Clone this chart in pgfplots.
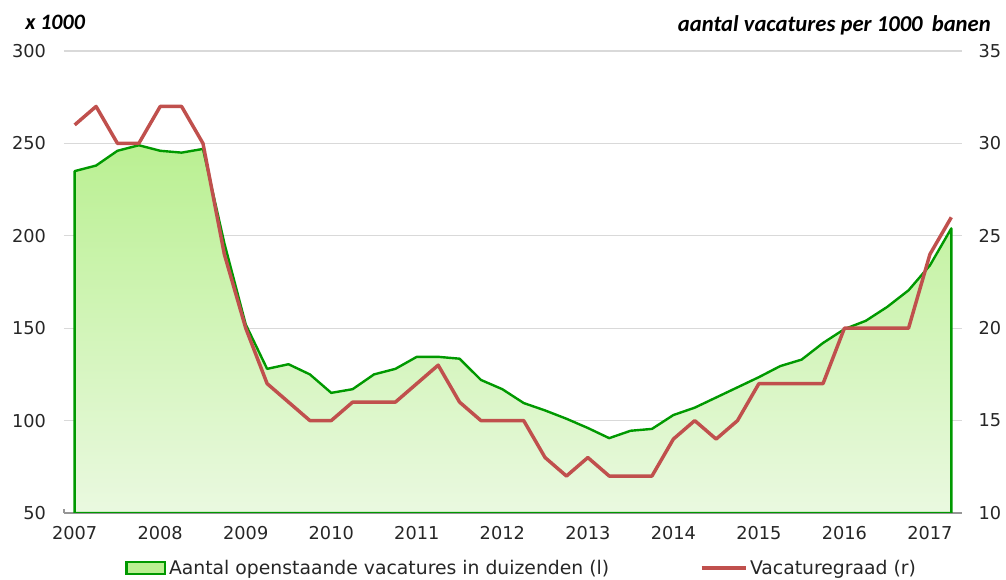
\documentclass[border=0pt]{standalone}
\usepackage{pgfplots}
\pgfplotsset{compat=1.18}
\usepackage{fontspec}
\setmainfont{DejaVu Sans}
\newfontfamily\hdr{Carlito}
\definecolor{gline}{RGB}{0,153,0}
\definecolor{rline}{RGB}{192,80,77}
\definecolor{gtop}{RGB}{186,240,146}
\definecolor{gbot}{RGB}{234,249,224}
\definecolor{gridc}{RGB}{217,217,217}
\definecolor{axg}{RGB}{150,150,150}
\newcommand{\tfont}{\fontsize{13.3}{16}\selectfont}
\newcommand{\lfont}{\fontsize{14.1}{17}\selectfont}
\pgfplotsset{
  boxlegend/.style={legend image code/.code={\draw[##1] (0pt,-4.5pt) rectangle (29pt,4.5pt);}},
  linelegend/.style={legend image code/.code={\draw[##1] (0pt,0pt) -- (33pt,0pt);}},
}

\pgfplotstableread{
x y
0 235
1 238
2 246
3 249
4 246
5 245
6 247
7 196
8 152
9 128
10 130.5
11 125
12 115
13 117
14 125
15 128
16 134.5
17 134.5
18 133.5
19 122
20 117
21 109.5
22 105.5
23 101
24 96
25 90.5
26 94.5
27 95.5
28 103
29 107
30 112.5
31 118
32 123.5
33 129.5
34 133
35 142
36 149.5
37 154
38 161.5
39 170.5
40 184
41 204
}\vacatures

\pgfplotstableread{
x y
0 31
1 32
2 30
3 30
4 32
5 32
6 30
7 24
8 20
9 17
10 16
11 15
12 15
13 16
14 16
15 16
16 17
17 18
18 16
19 15
20 15
21 15
22 13
23 12
24 13
25 12
26 12
27 12
28 14
29 15
30 14
31 15
32 17
33 17
34 17
35 17
36 20
37 20
38 20
39 20
40 24
41 26
}\graad

\begin{document}
\begin{tikzpicture}
\useasboundingbox (-48pt,-50.25pt) rectangle (706.5pt,384.75pt);
\begin{axis}[
  at={(0pt,0pt)}, anchor=south west,
  width=673.5pt, height=346.5pt, scale only axis,
  xmin=-0.5, xmax=41.5, ymin=50, ymax=300,
  axis x line*=bottom, axis y line*=left,
  x axis line style={draw=axg, line width=0.9pt, -},
  y axis line style={draw=none},
  xtick={0,4,...,40},
  xticklabels={2007,2008,2009,2010,2011,2012,2013,2014,2015,2016,2017},
  minor xtick={-0.5,3.5,...,39.5},
  major tick length=0pt, minor tick length=3pt, tick align=inside,
  minor tick style={draw=axg, line width=0.9pt},
  ytick={50,100,...,300},
  ymajorgrids, grid style={draw=gridc, line width=0.9pt},
  /pgf/number format/assume math mode=true,
  tick label style={font=\tfont, text=black!85},
  xticklabel style={yshift=-6.5pt},
  yticklabel style={xshift=-10pt},
]
\addplot[draw=gline, line width=1.8pt, line join=round, top color=gtop, bottom color=gbot] table[x=x,y=y] {\vacatures} \closedcycle;
\end{axis}
\begin{axis}[
  at={(0pt,0pt)}, anchor=south west,
  width=673.5pt, height=346.5pt, scale only axis,
  xmin=-0.5, xmax=41.5, ymin=10, ymax=35,
  axis x line=none, axis y line*=right,
  y axis line style={draw=none},
  ytick={10,15,...,35},
  major tick length=0pt,
  /pgf/number format/assume math mode=true,
  tick label style={font=\tfont, text=black!85},
  yticklabel style={xshift=9pt},
  legend columns=2,
  legend style={at={(0.51,-0.119)}, anchor=center, draw=none, fill=none, font=\lfont, text=black!85,
    /tikz/every even column/.append style={column sep=66pt},
    /tikz/every odd column/.append style={column sep=0pt}},
]
\addlegendimage{draw=gline, line width=1.8pt, fill=gtop, boxlegend}
\addlegendentry{Aantal openstaande vacatures in duizenden (l)}
\addplot[draw=rline, line width=2.6pt, line join=round, linelegend] table[x=x,y=y] {\graad};
\addlegendentry{Vacaturegraad (r)}
\end{axis}
\node[anchor=base west, font=\hdr\bfseries\itshape\fontsize{16.5}{20}\selectfont, inner sep=0pt] at (-29.25pt,362.25pt) {x 1000};
\node[anchor=base east, font=\hdr\bfseries\itshape\fontsize{17}{20}\selectfont, inner sep=0pt] at (695.25pt,360.75pt) {aantal vacatures per 1000\hspace{0.4em}banen};
\end{tikzpicture}
\end{document}
